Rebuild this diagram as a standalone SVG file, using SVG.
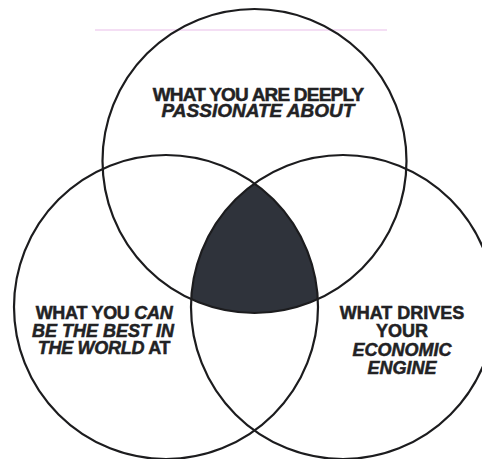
<svg xmlns="http://www.w3.org/2000/svg" width="482" height="459" viewBox="0 0 482 459">
  <style>
    .ring { fill: none; stroke: #1c1c1e; stroke-width: 2.2; }
    .lbl { font-family: "Liberation Sans", Arial, Helvetica, sans-serif; font-weight: bold; font-size: 18px; fill: #222224; stroke: #222224; stroke-width: 0.5; text-anchor: middle; }
    .it { font-style: italic; }
    .core { fill: #2f333b; stroke: none; }
  </style>
  <rect x="0" y="0" width="482" height="459" fill="#ffffff"/>
  <line x1="95" y1="30" x2="387" y2="30" stroke="#e9bde9" stroke-width="1.2"/>

  <g id="core">
    <path class="core" d="M254.5,183.4 A152 152 0 0 0 191.2,299.2 A152 152 0 0 0 317.8,299.2 A152 152 0 0 0 254.5,183.4 Z"/>
  </g>

  <g id="passion">
    <circle class="ring" cx="254.5" cy="161" r="152"/>
    <text class="lbl" x="258" y="100.5" style="font-size:19px" letter-spacing="-0.8">WHAT YOU ARE DEEPLY</text>
    <text class="lbl it" x="258" y="117" style="font-size:19px">PASSIONATE ABOUT</text>
  </g>

  <g id="best">
    <circle class="ring" cx="166" cy="307" r="152"/>
    <text class="lbl" x="104" y="318.5" letter-spacing="-0.3">WHAT YOU <tspan class="it">CAN</tspan></text>
    <text class="lbl it" x="103" y="336.5">BE THE BEST IN</text>
    <text class="lbl" x="104" y="354" letter-spacing="-0.3"><tspan class="it">THE WORLD</tspan> AT</text>
  </g>

  <g id="economic">
    <circle class="ring" cx="343" cy="307" r="152"/>
    <text class="lbl" x="402" y="318.5">WHAT DRIVES</text>
    <text class="lbl" x="402" y="337">YOUR</text>
    <text class="lbl it" x="402" y="355.5">ECONOMIC</text>
    <text class="lbl it" x="402" y="374">ENGINE</text>
  </g>

  <g id="connectors"/>
</svg>
